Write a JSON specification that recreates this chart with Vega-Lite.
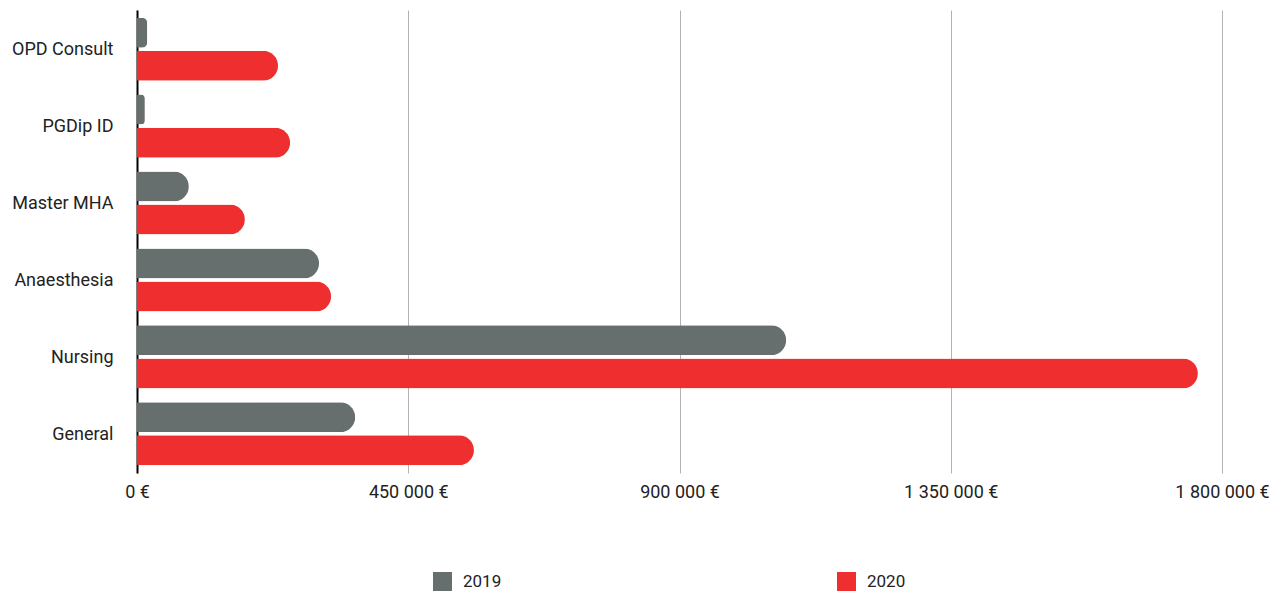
{
  "$schema": "https://vega.github.io/schema/vega-lite/v6.json",
  "width": 1085,
  "height": 463,
  "autosize": {"type": "none"},
  "padding": {"left": 137, "top": 10, "right": 60, "bottom": 121},
  "background": "white",
  "data": {
    "values": [
      {"program": "OPD Consult", "year": "2019", "amount": 17000},
      {"program": "OPD Consult", "year": "2020", "amount": 234000},
      {"program": "PGDip ID", "year": "2019", "amount": 13000},
      {"program": "PGDip ID", "year": "2020", "amount": 254000},
      {"program": "Master MHA", "year": "2019", "amount": 86000},
      {"program": "Master MHA", "year": "2020", "amount": 179000},
      {"program": "Anaesthesia", "year": "2019", "amount": 302000},
      {"program": "Anaesthesia", "year": "2020", "amount": 322000},
      {"program": "Nursing", "year": "2019", "amount": 1077000},
      {"program": "Nursing", "year": "2020", "amount": 1760000},
      {"program": "General", "year": "2019", "amount": 362000},
      {"program": "General", "year": "2020", "amount": 559000}
    ]
  },
  "mark": {"type": "bar", "cornerRadiusEnd": 15},
  "encoding": {
    "y": {
      "field": "program",
      "type": "nominal",
      "sort": null,
      "title": null,
      "scale": {"paddingInner": 0.18, "paddingOuter": 0.1},
      "axis": {
        "ticks": false,
        "labelPadding": 24,
        "labelFontSize": 18,
        "labelFont": "Roboto",
        "labelColor": "#222222",
        "labelOffset": 1,
        "domainColor": "#000000",
        "domainWidth": 2,
        "grid": false
      }
    },
    "yOffset": {
      "field": "year",
      "type": "nominal",
      "scale": {"paddingInner": 0.095, "paddingOuter": 0}
    },
    "x": {
      "field": "amount",
      "type": "quantitative",
      "title": null,
      "scale": {"domain": [0, 1800000], "nice": false},
      "axis": {
        "values": [0, 450000, 900000, 1350000, 1800000],
        "labelExpr": "replace(replace(format(datum.value, ','), ',', ' '), ',', ' ') + ' €'",
        "labelFlush": false,
        "domain": false,
        "ticks": false,
        "grid": true,
        "gridColor": "#b3b3b3",
        "gridWidth": 1,
        "labelPadding": 10,
        "labelFontSize": 18,
        "labelFont": "Roboto",
        "labelColor": "#222222"
      }
    },
    "color": {
      "field": "year",
      "type": "nominal",
      "scale": {"domain": ["2019", "2020"], "range": ["#666e6e", "#ee2e2f"]},
      "legend": {
        "title": null,
        "orient": "none",
        "legendX": 296,
        "legendY": 562,
        "direction": "horizontal",
        "columns": 2,
        "columnPadding": 335,
        "symbolType": "square",
        "symbolSize": 361,
        "symbolStrokeWidth": 0,
        "symbolOpacity": 1,
        "labelOffset": 11,
        "labelFontSize": 17,
        "labelFont": "Roboto",
        "labelColor": "#222222"
      }
    }
  },
  "config": {"view": {"stroke": null}}
}
